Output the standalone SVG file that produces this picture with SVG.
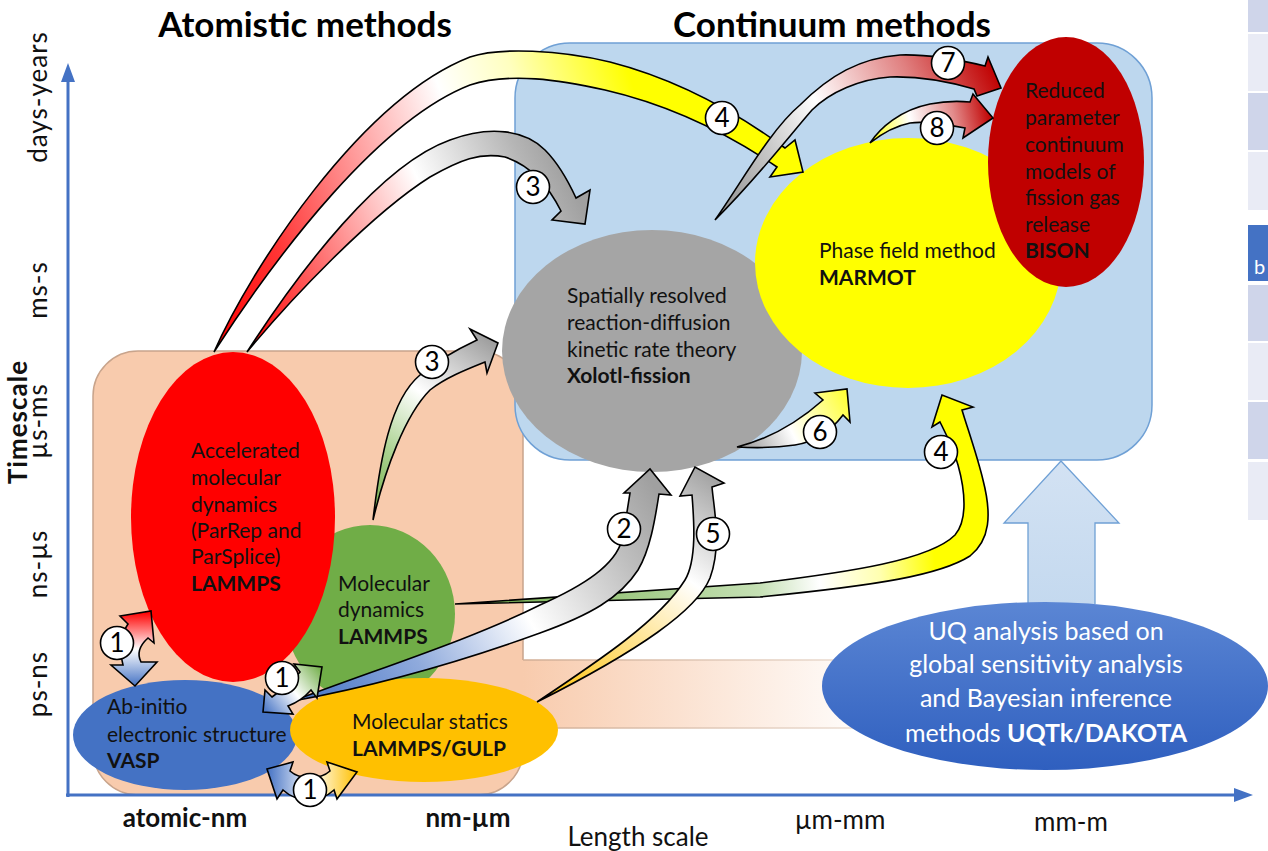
<svg xmlns="http://www.w3.org/2000/svg" width="1268" height="851" viewBox="0 0 1268 851">
<defs>
<style>
text{font-family:Lato,"Liberation Sans",sans-serif;fill:#111}
.nt{font-size:21px}
.b{font-weight:bold}
.ax{font-size:26px;letter-spacing:1px}
.title{font-size:35px;font-weight:bold;text-anchor:middle;fill:#000}
.arr{stroke:#000;stroke-width:1.6;stroke-linejoin:miter}
.lbl circle{fill:#fff;stroke:#000;stroke-width:1.6}
.lbl text{font-size:26px;text-anchor:middle;fill:#000}
.axis{stroke:#4472C4;stroke-width:3;fill:none}
.cd{fill:#CFD5EA}
.cl{fill:#E9EBF5}
</style>
<linearGradient id="gA" gradientUnits="userSpaceOnUse" x1="214" y1="352" x2="800" y2="160"><stop offset="0" stop-color="#FF0000"/><stop offset="0.15" stop-color="#FF3535"/><stop offset="0.48" stop-color="#FFFFFF"/><stop offset="0.6" stop-color="#FFFFC0"/><stop offset="0.78" stop-color="#FFFF00"/><stop offset="1" stop-color="#FFFF00"/></linearGradient>
<linearGradient id="gB" gradientUnits="userSpaceOnUse" x1="247" y1="352" x2="580" y2="200"><stop offset="0" stop-color="#FF0000"/><stop offset="0.25" stop-color="#FF6060"/><stop offset="0.62" stop-color="#FFFFFF"/><stop offset="0.9" stop-color="#B5B5B5"/><stop offset="1" stop-color="#A0A0A0"/></linearGradient>
<linearGradient id="gC" gradientUnits="userSpaceOnUse" x1="373" y1="520" x2="495" y2="345"><stop offset="0" stop-color="#70AD47"/><stop offset="0.3" stop-color="#A9D18E"/><stop offset="0.62" stop-color="#FFFFFF"/><stop offset="1" stop-color="#A0A0A0"/></linearGradient>
<linearGradient id="gD" gradientUnits="userSpaceOnUse" x1="715" y1="220" x2="1000" y2="80"><stop offset="0" stop-color="#8C8C8C"/><stop offset="0.25" stop-color="#C8C8C8"/><stop offset="0.45" stop-color="#FFFFFF"/><stop offset="0.75" stop-color="#E08080"/><stop offset="1" stop-color="#C00000"/></linearGradient>
<linearGradient id="gE" gradientUnits="userSpaceOnUse" x1="870" y1="143" x2="992" y2="118"><stop offset="0" stop-color="#FFFF00"/><stop offset="0.35" stop-color="#FFFFFF"/><stop offset="0.7" stop-color="#E38C8C"/><stop offset="1" stop-color="#C00000"/></linearGradient>
<linearGradient id="gF" gradientUnits="userSpaceOnUse" x1="737" y1="447" x2="848" y2="392"><stop offset="0" stop-color="#909090"/><stop offset="0.45" stop-color="#FFFFFF"/><stop offset="1" stop-color="#FFFF30"/></linearGradient>
<linearGradient id="gG" gradientUnits="userSpaceOnUse" x1="455" y1="600" x2="960" y2="560"><stop offset="0" stop-color="#70AD47"/><stop offset="0.6" stop-color="#C5E0B4"/><stop offset="0.72" stop-color="#FFFFFF"/><stop offset="0.84" stop-color="#FFFFB0"/><stop offset="0.95" stop-color="#FFFF00"/></linearGradient>
<linearGradient id="gH" gradientUnits="userSpaceOnUse" x1="293" y1="700" x2="650" y2="480"><stop offset="0" stop-color="#4472C4"/><stop offset="0.3" stop-color="#8FAADC"/><stop offset="0.58" stop-color="#FFFFFF"/><stop offset="0.85" stop-color="#BFBFBF"/><stop offset="1" stop-color="#A0A0A0"/></linearGradient>
<linearGradient id="gI" gradientUnits="userSpaceOnUse" x1="537" y1="702" x2="700" y2="470"><stop offset="0" stop-color="#FFC000"/><stop offset="0.4" stop-color="#FFE699"/><stop offset="0.66" stop-color="#FFFFFF"/><stop offset="1" stop-color="#A5A5A5"/></linearGradient>
<linearGradient id="gJ1" gradientUnits="userSpaceOnUse" x1="0" y1="612" x2="0" y2="686"><stop offset="0" stop-color="#FF0000"/><stop offset="0.5" stop-color="#FFFFFF"/><stop offset="1" stop-color="#4472C4"/></linearGradient>
<linearGradient id="gJ2" gradientUnits="userSpaceOnUse" x1="263" y1="711" x2="321" y2="666"><stop offset="0" stop-color="#4472C4"/><stop offset="0.5" stop-color="#FFFFFF"/><stop offset="1" stop-color="#70AD47"/></linearGradient>
<linearGradient id="gJ3" gradientUnits="userSpaceOnUse" x1="267" y1="0" x2="357" y2="0"><stop offset="0" stop-color="#4472C4"/><stop offset="0.5" stop-color="#FFFFFF"/><stop offset="1" stop-color="#FFC000"/></linearGradient>
<linearGradient id="gBand" gradientUnits="userSpaceOnUse" x1="523" y1="0" x2="880" y2="0"><stop offset="0" stop-color="#F8CBAD"/><stop offset="1" stop-color="#FFFFFF"/></linearGradient>
<linearGradient id="gBandS" gradientUnits="userSpaceOnUse" x1="523" y1="0" x2="880" y2="0"><stop offset="0" stop-color="#D2AE95"/><stop offset="1" stop-color="#EDE0D6"/></linearGradient>
<linearGradient id="gUQ" x1="0" y1="0" x2="0" y2="1"><stop offset="0" stop-color="#5B86D4"/><stop offset="1" stop-color="#2F5FBF"/></linearGradient>
<linearGradient id="gUp" x1="0" y1="0" x2="0" y2="1"><stop offset="0" stop-color="#D3E2F3"/><stop offset="1" stop-color="#C4D9EF"/></linearGradient>
</defs>
<rect width="1268" height="851" fill="#FFFFFF"/>
<g id="regions">
<rect id="atomistic-region" x="93" y="351" width="430" height="444" rx="45" fill="#F8CBAD" stroke="#C8A48C" stroke-width="1.5"/>
<rect x="522" y="660" width="360" height="68" fill="url(#gBand)"/>
<path d="M523,660 H882 M523,728 H882" stroke="url(#gBandS)" stroke-width="1.5" fill="none"/>
<rect id="continuum-region" x="515" y="43" width="637" height="417" rx="55" fill="#BDD7EE" stroke="#6FA0D5" stroke-width="1.5"/>
</g>
<g id="side-table">
<rect x="1248" y="0" width="20" height="32" class="cd"/>
<rect x="1248" y="34" width="20" height="57" class="cl"/>
<rect x="1248" y="93" width="20" height="57" class="cd"/>
<rect x="1248" y="152" width="20" height="58" class="cl"/>
<rect x="1248" y="225" width="20" height="56" fill="#4472C4"/>
<text x="1254" y="274" style="font-size:20px;fill:#fff">b</text>
<rect x="1248" y="285" width="20" height="56" class="cd"/>
<rect x="1248" y="343" width="20" height="57" class="cl"/>
<rect x="1248" y="402" width="20" height="57" class="cd"/>
<rect x="1248" y="462" width="20" height="58" class="cl"/>
</g>
<g id="titles">
<text class="title" x="305" y="37">Atomistic methods</text>
<text class="title" x="832" y="37">Continuum methods</text>
</g>
<g id="axes">
<path class="axis" d="M68,797 V80 M66,795 H1236"/>
<path d="M68,63 L75,82 L61,82 Z M1253,795 L1234,788 L1234,802 Z" fill="#4472C4"/>
<text class="ax" transform="translate(47,97) rotate(-90)" text-anchor="middle">days-years</text>
<text class="ax" transform="translate(47,290) rotate(-90)" text-anchor="middle">ms-s</text>
<text class="ax" transform="translate(47,421) rotate(-90)" text-anchor="middle">µs-ms</text>
<text class="ax b" transform="translate(27,422) rotate(-90)" text-anchor="middle">Timescale</text>
<text class="ax" transform="translate(47,564) rotate(-90)" text-anchor="middle">ns-µs</text>
<text class="ax" transform="translate(47,684) rotate(-90)" text-anchor="middle">ps-ns</text>
<text class="ax b" x="185" y="827" text-anchor="middle" style="letter-spacing:0">atomic-nm</text>
<text class="ax b" x="468" y="827" text-anchor="middle" style="letter-spacing:0">nm-µm</text>
<text class="ax" x="840" y="829" text-anchor="middle" style="letter-spacing:0">µm-mm</text>
<text class="ax" x="1071" y="831" text-anchor="middle" style="letter-spacing:0">mm-m</text>
<text class="ax" x="638" y="846" text-anchor="middle" style="letter-spacing:0">Length scale</text>
</g>
<g id="node-md">
<ellipse cx="370" cy="614" rx="85" ry="89" fill="#70AD47"/>
<text class="nt" x="338" y="591">Molecular</text>
<text class="nt" x="338" y="617">dynamics</text>
<text class="nt b" x="338" y="644">LAMMPS</text>
</g>
<g id="node-amd">
<ellipse cx="233" cy="517" rx="102" ry="165" fill="#FF0000"/>
<text class="nt" x="191" y="458">Accelerated</text>
<text class="nt" x="191" y="485">molecular</text>
<text class="nt" x="191" y="512">dynamics</text>
<text class="nt" x="191" y="538">(ParRep and</text>
<text class="nt" x="191" y="564">ParSplice)</text>
<text class="nt b" x="191" y="591">LAMMPS</text>
</g>
<g id="node-abinitio">
<ellipse cx="185" cy="735" rx="112" ry="55" fill="#4472C4"/>
<text class="nt" x="107" y="714">Ab-initio</text>
<text class="nt" x="107" y="742">electronic structure</text>
<text class="nt b" x="107" y="768">VASP</text>
</g>
<g id="node-ms">
<ellipse cx="424" cy="730" rx="134" ry="52" fill="#FFC000"/>
<text class="nt" x="352" y="729">Molecular statics</text>
<text class="nt b" x="352" y="756">LAMMPS/GULP</text>
</g>
<g id="node-krt">
<ellipse cx="652" cy="351" rx="150" ry="121" fill="#A5A5A5"/>
<text class="nt" x="567" y="303">Spatially resolved</text>
<text class="nt" x="567" y="330">reaction-diffusion</text>
<text class="nt" x="567" y="357">kinetic rate theory</text>
<text class="nt b" x="567" y="383">Xolotl-fission</text>
</g>
<g id="node-pf">
<ellipse cx="908" cy="263" rx="153" ry="125" fill="#FFFF00"/>
<text class="nt" x="819" y="258">Phase field method</text>
<text class="nt b" x="819" y="285">MARMOT</text>
</g>
<g id="node-bison">
<ellipse cx="1066" cy="162" rx="78" ry="125" fill="#C00000"/>
<text class="nt" x="1025" y="98">Reduced</text>
<text class="nt" x="1025" y="125">parameter</text>
<text class="nt" x="1025" y="152">continuum</text>
<text class="nt" x="1025" y="179">models of</text>
<text class="nt" x="1025" y="205">fission gas</text>
<text class="nt" x="1025" y="232">release</text>
<text class="nt b" x="1025" y="258">BISON</text>
</g>
<g id="connectors">
<path id="c-4top" class="arr" fill="url(#gA)" d="M214,352 C250,270 360,100 470,57 C500,47 560,50 610,62 C680,80 740,115 785,148 L795,140 L803,172 L770,177 L777,167 C730,135 670,105 605,90 C560,80 510,72 470,85 C380,120 280,250 214,352 Z"/>
<path id="c-3top" class="arr" fill="url(#gB)" d="M247,352 C300,270 380,165 450,140 C490,125 525,130 545,150 C560,165 570,185 576,198 L590,190 L585,224 L552,220 L561,211 C548,185 530,165 505,157 C480,152 460,160 430,177 C370,215 290,300 247,352 Z"/>
<path id="c-3low" class="arr" fill="url(#gC)" d="M373,520 C380,460 390,400 420,375 C440,358 460,348 477,340 L470,329 L498,343 L487,373 L485,362 C465,370 445,378 430,390 C405,415 385,470 373,520 Z"/>
<path id="c-7" class="arr" fill="url(#gD)" d="M715,220 C740,185 770,130 800,105 C830,75 860,58 900,55 C930,54 960,60 985,66 L988,57 L1001,88 L977,96 L974,89 C950,82 920,76 890,77 C860,79 830,92 812,110 C790,135 760,175 715,220 Z"/>
<path id="c-8" class="arr" fill="url(#gE)" d="M870,143 C880,128 900,110 930,104 C945,101 960,101 970,102 L973,94 L993,118 L963,138 L965,128 C945,124 925,121 910,123 C895,126 880,135 870,143 Z"/>
<path id="c-6" class="arr" fill="url(#gF)" d="M737,447 C765,440 795,425 823,400 L815,393 L847,389 L850,422 L843,415 C830,432 815,442 795,445 C775,448 755,448 737,447 Z"/>
<path id="c-4low" class="arr" fill="url(#gG)" d="M455,604 L760,583 C850,572 930,560 955,535 C968,520 965,490 958,465 C953,447 945,432 940,422 L932,427 L942,395 L973,407 L962,410 C968,430 977,455 983,480 C992,515 990,540 970,556 C940,575 880,585 760,597 Z"/>
<path id="c-2" class="arr" fill="url(#gH)" d="M293,701 C380,668 470,640 540,605 C585,585 615,565 622,540 C626,520 628,505 630,493 L624,493 L650,469 L671,495 L659,494 C655,520 650,550 638,570 C620,598 590,615 540,633 C460,662 380,685 293,701 Z"/>
<path id="c-5" class="arr" fill="url(#gI)" d="M537,702 C600,660 660,620 685,580 C697,560 694,520 692,495 L680,496 L695,467 L724,483 L712,487 C714,510 722,545 710,578 C697,610 640,650 537,702 Z"/>
<path id="c-1a" class="arr" fill="url(#gJ1)" d="M128,624 L120,616 L151,611 L154,643 L148,638 C139,646 137,654 141,662 L157,662 L135,686 L111,665 L123,665 C119,650 121,634 128,624 Z"/>
<path id="c-1b" class="arr" fill="url(#gJ2)" d="M300,672 L294,664 L322,667 L317,698 L311,690 C304,698 296,703 288,706 L293,714 L263,712 L265,690 L272,697 C282,690 292,682 300,672 Z"/>
<path id="c-1c" class="arr" fill="url(#gJ3)" d="M267,769 L293,762 L290,771 C300,780 320,780 330,771 L327,762 L357,772 L337,799 L334,790 C320,803 297,803 283,790 L277,799 Z"/>
<path id="c-uq" d="M1028,604 V523 H1004 L1061,461 L1119,523 H1095 V604 Z" fill="url(#gUp)"/>
<path d="M1028,604 V523 H1004 L1061,461 L1119,523 H1095 V604" fill="none" stroke="#6FA0D5" stroke-width="1.3"/>
<g class="lbl">
<circle cx="722" cy="118" r="16.5"/><text x="722" y="127">4</text>
<circle cx="533" cy="187" r="16.5"/><text x="533" y="196">3</text>
<circle cx="432" cy="362" r="16.5"/><text x="432" y="371">3</text>
<circle cx="948" cy="63" r="16.5"/><text x="948" y="72">7</text>
<circle cx="937" cy="128" r="16.5"/><text x="937" y="137">8</text>
<circle cx="820" cy="432" r="16.5"/><text x="820" y="441">6</text>
<circle cx="941" cy="452" r="16.5"/><text x="941" y="461">4</text>
<circle cx="624" cy="529" r="16.5"/><text x="624" y="538">2</text>
<circle cx="713" cy="534" r="16.5"/><text x="713" y="543">5</text>
<circle cx="117" cy="643" r="16.5"/><text x="117" y="652">1</text>
<circle cx="282" cy="678" r="16.5"/><text x="282" y="687">1</text>
<circle cx="310" cy="790" r="16.5"/><text x="310" y="799">1</text>
</g>
</g>
<g id="node-uq">
<ellipse cx="1045" cy="686" rx="223" ry="84" fill="url(#gUQ)"/>
<text x="1046" y="640" text-anchor="middle" style="font-size:25px;fill:#fff">UQ analysis based on</text>
<text x="1046" y="673" text-anchor="middle" style="font-size:25px;fill:#fff">global  sensitivity analysis</text>
<text x="1046" y="707" text-anchor="middle" style="font-size:25px;fill:#fff">and Bayesian inference</text>
<text x="1046" y="742" text-anchor="middle" style="font-size:25px;fill:#fff">methods <tspan font-weight="bold" fill="#fff">UQTk/DAKOTA</tspan></text>
</g>
</svg>
